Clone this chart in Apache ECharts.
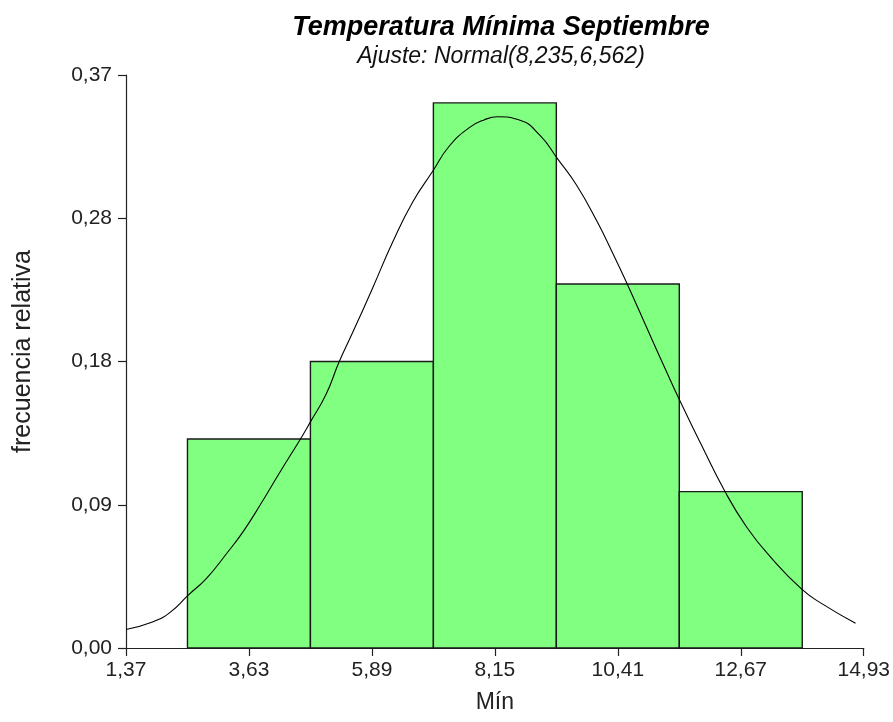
<!DOCTYPE html>
<html>
<head>
<meta charset="utf-8">
<title>Temperatura Mínima Septiembre</title>
<script src="https://cdn.jsdelivr.net/npm/echarts@6/dist/echarts.min.js"></script>
<style>
  html, body { margin: 0; padding: 0; background: #fff; }
  #chart { width: 893px; height: 722px; }
</style>
</head>
<body>
<div id="chart"></div>
<script>
// datos
var binEdges = [2.50, 4.76, 7.02, 9.28, 11.54, 13.80];
var relFreq = [0.135, 0.185, 0.352, 0.235, 0.101];

// curva normal ajustada (puntos leídos)
var curveX = [1.37, 1.87, 2.18, 2.51, 2.85, 3.22, 3.52, 3.83, 4.19, 4.56, 4.76, 5.05, 5.29, 5.54, 5.91, 6.27, 6.64, 7.01, 7.31, 7.68, 7.95, 8.2, 8.6, 8.98, 9.30, 9.65, 10.02, 10.33, 10.57, 10.94, 11.31, 11.56, 11.92, 12.38, 12.78, 13.21, 13.79, 14.19, 14.78];
var curveY = [0.012, 0.017, 0.023, 0.034, 0.045, 0.061, 0.075, 0.092, 0.113, 0.134, 0.146, 0.164, 0.185, 0.204, 0.233, 0.262, 0.288, 0.308, 0.324, 0.336, 0.341, 0.343, 0.341, 0.331, 0.316, 0.299, 0.276, 0.254, 0.236, 0.207, 0.178, 0.159, 0.133, 0.101, 0.078, 0.059, 0.038, 0.028, 0.016];

var xTickLabels = ['1,37', '3,63', '5,89', '8,15', '10,41', '12,67', '14,93'];
var yTickLabels = ['0,00', '0,09', '0,18', '0,28', '0,37'];

var X0 = 1.37;     // origen del eje x
var XSTEP = 2.26;
var YSTEP = 0.0925;

var barData = relFreq.map(function(v, i) {
  return [binEdges[i] - X0, binEdges[i + 1] - X0, v];
});
var lineData = curveX.map(function(x, i) {
  return [x - X0, curveY[i]];
});

var chart = echarts.init(document.getElementById('chart'));
var font = 'Liberation Sans, Arial, sans-serif';

chart.setOption({
  backgroundColor: '#fff',
  animation: false,
  title: {
    text: 'Temperatura Mínima Septiembre',
    subtext: 'Ajuste: Normal(8,235,6,562)',
    left: 496,
    textAlign: 'center',
    top: 9,
    itemGap: 4,
    textStyle: { fontFamily: font, fontSize: 27, fontWeight: 'bold', fontStyle: 'italic', color: '#000' },
    subtextStyle: { fontFamily: font, fontSize: 23, fontStyle: 'italic', color: '#111' }
  },
  grid: { left: 126, right: 29, top: 75, bottom: 74 },
  xAxis: {
    type: 'value',
    min: 0,
    max: XSTEP * 6,
    interval: XSTEP,
    name: 'Mín',
    nameLocation: 'middle',
    nameGap: 43,
    nameTextStyle: { fontFamily: font, fontSize: 23, color: '#222' },
    splitLine: { show: false },
    axisLine: { lineStyle: { color: '#222', width: 1.2 } },
    axisTick: { length: 8, lineStyle: { color: '#222', width: 1.2 } },
    axisLabel: {
      fontFamily: font, fontSize: 21, color: '#222', margin: 12,
      formatter: function(v, i) { return xTickLabels[i]; }
    }
  },
  yAxis: {
    type: 'value',
    min: 0,
    max: YSTEP * 4,
    interval: YSTEP,
    name: 'frecuencia relativa',
    nameLocation: 'middle',
    nameGap: 90,
    nameTextStyle: { fontFamily: font, fontSize: 25, color: '#222', padding: [0, 0, 0, 20] },
    splitLine: { show: false },
    axisLine: { show: true, lineStyle: { color: '#222', width: 1.2 } },
    axisTick: { show: true, length: 8, lineStyle: { color: '#222', width: 1.2 } },
    axisLabel: {
      fontFamily: font, fontSize: 21, color: '#222', margin: 14,
      formatter: function(v, i) { return yTickLabels[i]; }
    }
  },
  series: [
    {
      type: 'custom',
      data: barData,
      encode: { x: [0, 1], y: 2 },
      renderItem: function(params, api) {
        var p0 = api.coord([api.value(0), 0]);
        var p1 = api.coord([api.value(1), api.value(2)]);
        return {
          type: 'rect',
          shape: { x: p0[0], y: p1[1], width: p1[0] - p0[0], height: p0[1] - p1[1] },
          style: { fill: '#80ff80', stroke: '#1a1a1a', lineWidth: 1.4 }
        };
      },
      z: 2
    },
    {
      type: 'line',
      data: lineData,
      smooth: true,
      showSymbol: false,
      lineStyle: { color: '#000', width: 1.1 },
      z: 3
    }
  ]
});
</script>
</body>
</html>
